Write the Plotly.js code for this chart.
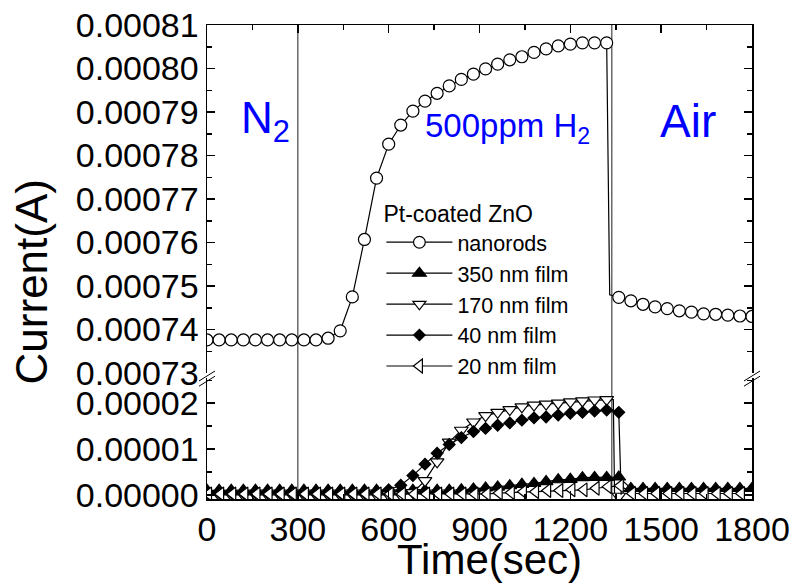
<!DOCTYPE html>
<html><head><meta charset="utf-8">
<script src="https://cdn.plot.ly/plotly-3.0.1.min.js"></script>
<style>html,body{margin:0;padding:0;background:#fff}#chart{width:792px;height:585px}</style>
</head><body><div id="chart"></div>
<script>
// ---- data ----
const seriesNames = ['nanorods', '350 nm film', '170 nm film', '40 nm film', '20 nm film'];
const legendTitle = 'Pt-coated ZnO';
const gasSwitchTimes = [300, 1337];
const xTickVals = [0, 300, 600, 900, 1200, 1500, 1800];
const upperTickVals = [0.00073, 0.00074, 0.00075, 0.00076, 0.00077, 0.00078, 0.00079, 0.00080, 0.00081];
const lowerTickVals = [0.00000, 0.00001, 0.00002];

// nanorods (upper axis)
const tNanorods = [0,40,80,120,160,200,240,280,320,360,400,440,480,520,560,600,640,680,720,760,800,840,880,920,960,1000,1040,1080,1120,1160,1200,1240,1280,1320,1330,1360,1400,1440,1480,1520,1560,1600,1640,1680,1720,1760,1800];
const iNanorods = [0.0007376,0.0007376,0.0007376,0.0007376,0.0007376,0.0007376,0.0007376,0.0007376,0.0007376,0.0007376,
  0.000738,0.0007397,0.0007475,0.0007607,0.0007748,0.0007826,0.000787,0.0007902,0.0007925,0.0007943,0.000796,0.0007975,0.0007987,0.0007999,0.000801,0.000802,0.0008027,0.0008037,0.0008045,0.0008052,0.0008056,0.0008059,0.0008059,0.0008059,
  0.000748,
  0.0007474,0.0007466,0.0007458,0.0007452,0.0007448,0.0007443,0.000744,0.0007436,0.0007435,0.0007433,0.0007431,0.000743];

// 350 nm film
const t350 = [0,40,80,120,160,200,240,280,320,360,400,440,480,520,560,600,640,680,720,760,800,840,880,920,960,1000,1040,1080,1120,1160,1200,1240,1280,1320,1360,1400,1440,1480,1520,1560,1600,1640,1680,1720,1760,1800];
const i350 = [1.0e-6,1.0e-6,1.0e-6,1.0e-6,1.0e-6,1.0e-6,1.0e-6,1.0e-6,1.0e-6,1.0e-6,1.0e-6,1.0e-6,1.0e-6,1.0e-6,1.0e-6,1.0e-6,1.0e-6,1.0e-6,1.0e-6,1.0e-6,1.0e-6,
  1.1e-6,1.3e-6,1.5e-6,1.7e-6,2.0e-6,2.3e-6,2.5e-6,2.9e-6,3.3e-6,3.4e-6,3.75e-6,3.8e-6,3.8e-6,3.9e-6,
  1.4e-6,1.4e-6,1.4e-6,1.4e-6,1.4e-6,1.4e-6,1.4e-6,1.4e-6,1.4e-6,1.4e-6,1.4e-6];

// 170 nm film
const t170 = [0,40,80,120,160,200,240,280,320,360,400,440,480,520,560,600,640,680,720,760,800,840,880,920,960,1000,1040,1080,1120,1160,1200,1240,1280,1320,1342,1346,1360];
const i170 = [0,0,0,0,0,0,0,0,0,0,0,0,0,0,0,0,0,
  0.5e-6,3.1e-6,7.2e-6,1.15e-5,1.41e-5,1.59e-5,1.73e-5,1.80e-5,1.86e-5,1.92e-5,1.96e-5,1.98e-5,2.00e-5,2.03e-5,2.05e-5,2.07e-5,2.08e-5,
  2.08e-5,0,-0.3e-6];

// 40 nm film
const t40 = [0,40,80,120,160,200,240,280,320,360,400,440,480,520,560,600,640,680,720,760,800,840,880,920,960,1000,1040,1080,1120,1160,1200,1240,1280,1320,1360,1368];
const i40 = [0.5e-6,0.5e-6,0.5e-6,0.5e-6,0.5e-6,0.5e-6,0.5e-6,0.5e-6,0.5e-6,0.5e-6,0.5e-6,0.5e-6,0.5e-6,0.5e-6,
  0.7e-6,1.1e-6,2.1e-6,4.2e-6,6.7e-6,9.1e-6,1.10e-5,1.25e-5,1.38e-5,1.45e-5,1.52e-5,1.57e-5,1.63e-5,1.68e-5,1.70e-5,1.74e-5,1.78e-5,1.80e-5,1.83e-5,1.85e-5,1.80e-5,
  0];

// 20 nm film
const t20 = [5,45,85,125,165,205,245,285,325,365,405,445,485,525,565,605,645,685,725,765,805,845,885,925,965,1005,1045,1085,1125,1165,1205,1245,1285,1325,1365,1405,1445,1485,1525,1565,1605,1645,1685,1725,1765];
const i20 = [0.2e-6,0.2e-6,0.2e-6,0.2e-6,0.2e-6,0.2e-6,0.2e-6,0.2e-6,0.2e-6,0.2e-6,0.2e-6,0.2e-6,0.2e-6,0.2e-6,0.2e-6,0.2e-6,0.2e-6,0.2e-6,0.2e-6,0.2e-6,0.2e-6,0.2e-6,0.2e-6,0.2e-6,
  0.4e-6,0.5e-6,0.7e-6,0.7e-6,0.95e-6,0.95e-6,1.1e-6,1.1e-6,1.45e-6,1.8e-6,2.0e-6,
  0.3e-6,0.3e-6,0.3e-6,0.3e-6,0.3e-6,0.3e-6,0.3e-6,0.3e-6,0.3e-6,0.3e-6];

// ---- drawing ----
const FONT = 'Liberation Sans, Arial, sans-serif';
// markers only on the regular 40-s sampling grid; drop vertices are unmarked
function sizes(ts, offset, s) { return ts.map(t => ((t - offset) % 40 === 0 ? s : 0)); }
function mk(name, ts, ys, offset, symbol, fill, size, xa, ya) {
  return {
    type: 'scatter', mode: 'lines+markers', name: name, x: ts, y: ys,
    xaxis: xa, yaxis: ya,
    line: {color: 'black', width: 1.2},
    marker: {symbol: symbol, color: fill, opacity: 1, size: sizes(ts, offset, size), line: {color: 'black', width: 1.2}}
  };
}
const data = [
  mk(seriesNames[0], tNanorods, iNanorods, 0, 'circle', 'white', 12, 'x2', 'y2'),
  mk(seriesNames[1], t350, i350, 0, 'triangle-up', 'black', 12, 'x', 'y'),
  mk(seriesNames[2], t170, i170, 0, 'triangle-down', 'white', 12, 'x', 'y'),
  mk(seriesNames[3], t40, i40, 0, 'diamond', 'black', 9, 'x', 'y'),
  mk(seriesNames[4], t20, i20, 5, 'triangle-left', 'white', 12, 'x', 'y')
];

const yLowTop = 0.2553, yUpBot = 0.2658;
const axCommon = {
  ticks: 'inside', ticklen: 8, tickwidth: 1.5, tickcolor: 'black',
  showline: true, linewidth: 1.5, linecolor: 'black',
  showgrid: false, zeroline: false,
  tickfont: {family: FONT, size: 34, color: 'black'}
};
const minorX = {ticks: 'inside', ticklen: 5, tickwidth: 1.5, tickcolor: 'black', dtick: 150, tick0: 0};
const layout = {
  width: 792, height: 585,
  margin: {l: 207, r: 40, t: 25, b: 86},
  paper_bgcolor: 'white', plot_bgcolor: 'white',
  font: {family: FONT, color: 'black'},
  showlegend: true,
  xaxis: Object.assign({}, axCommon, {
    domain: [0, 1], anchor: 'y', range: [0, 1800],
    tickmode: 'array', tickvals: xTickVals, ticktext: xTickVals.map(String),
    minor: minorX
  }),
  xaxis2: Object.assign({}, axCommon, {
    domain: [0, 1], anchor: 'y2', side: 'top', range: [0, 1800], matches: 'x',
    tickmode: 'array', tickvals: xTickVals, showticklabels: false,
    minor: minorX
  }),
  yaxis: Object.assign({}, axCommon, {
    domain: [0, yLowTop], anchor: 'x', range: [-0.0000009, 0.0000255],
    tickmode: 'array', tickvals: lowerTickVals, ticktext: lowerTickVals.map(v => v.toFixed(5)),
    minor: {ticks: 'inside', ticklen: 5, tickwidth: 1.5, tickcolor: 'black', dtick: 0.000005, tick0: 0},
    mirror: 'ticks'
  }),
  yaxis2: Object.assign({}, axCommon, {
    domain: [yUpBot, 1], anchor: 'x2', range: [0.00073 - 1e-10, 0.00081 + 1e-10],
    tickmode: 'array', tickvals: upperTickVals, ticktext: upperTickVals.map(v => v.toFixed(5)),
    minor: {ticks: 'inside', ticklen: 5, tickwidth: 1.5, tickcolor: 'black', dtick: 0.000005, tick0: 0.00073},
    mirror: 'ticks'
  }),
  legend: {
    x: 0.32, y: 0.648, xanchor: 'left', yanchor: 'top',
    bgcolor: 'rgba(0,0,0,0)', borderwidth: 0,
    font: {family: FONT, size: 21.5, color: 'black'},
    title: {text: legendTitle, font: {family: FONT, size: 23, color: 'black'}},
    itemwidth: 66, tracegroupgap: 0
  },
  shapes: [].concat(
    gasSwitchTimes.map(t => ({type: 'line', xref: 'x', yref: 'paper', x0: t, x1: t, y0: 0, y1: 1,
      line: {color: '#444', width: 1.2}, layer: 'below'})),
    [
      {type: 'line', xref: 'paper', yref: 'paper', x0: -0.0147, x1: 0.0147, y0: 0.249, y1: 0.270, line: {color: 'black', width: 1}},
      {type: 'line', xref: 'paper', yref: 'paper', x0: -0.0147, x1: 0.0147, y0: 0.238, y1: 0.259, line: {color: 'black', width: 1}},
      {type: 'line', xref: 'paper', yref: 'paper', x0: 0.9853, x1: 1.0147, y0: 0.249, y1: 0.270, line: {color: 'black', width: 1}},
      {type: 'line', xref: 'paper', yref: 'paper', x0: 0.9853, x1: 1.0147, y0: 0.238, y1: 0.259, line: {color: 'black', width: 1}}
    ]
  ),
  annotations: [
    {xref: 'paper', yref: 'paper', x: -0.322, y: 0.458, text: 'Current(A)', textangle: -90, showarrow: false,
      font: {family: FONT, size: 44, color: 'black'}, xanchor: 'center', yanchor: 'middle'},
    {xref: 'paper', yref: 'paper', x: 0.519, y: -0.127, text: 'Time(sec)', showarrow: false,
      font: {family: FONT, size: 42, color: 'black'}, xanchor: 'center', yanchor: 'middle'},
    {xref: 'paper', yref: 'paper', x: 0.108, y: 0.798, text: 'N<sub>2</sub>', showarrow: false,
      font: {family: FONT, size: 44, color: '#0000ff'}, xanchor: 'center', yanchor: 'middle'},
    {xref: 'paper', yref: 'paper', x: 0.552, y: 0.783, text: '500ppm H<sub>2</sub>', showarrow: false,
      font: {family: FONT, size: 33, color: '#0000ff'}, xanchor: 'center', yanchor: 'middle'},
    {xref: 'paper', yref: 'paper', x: 0.883, y: 0.797, text: 'Air', showarrow: false,
      font: {family: FONT, size: 46, color: '#0000ff'}, xanchor: 'center', yanchor: 'middle'}
  ]
};
Plotly.newPlot('chart', data, layout, {displayModeBar: false, staticPlot: true});
</script>
</body></html>
